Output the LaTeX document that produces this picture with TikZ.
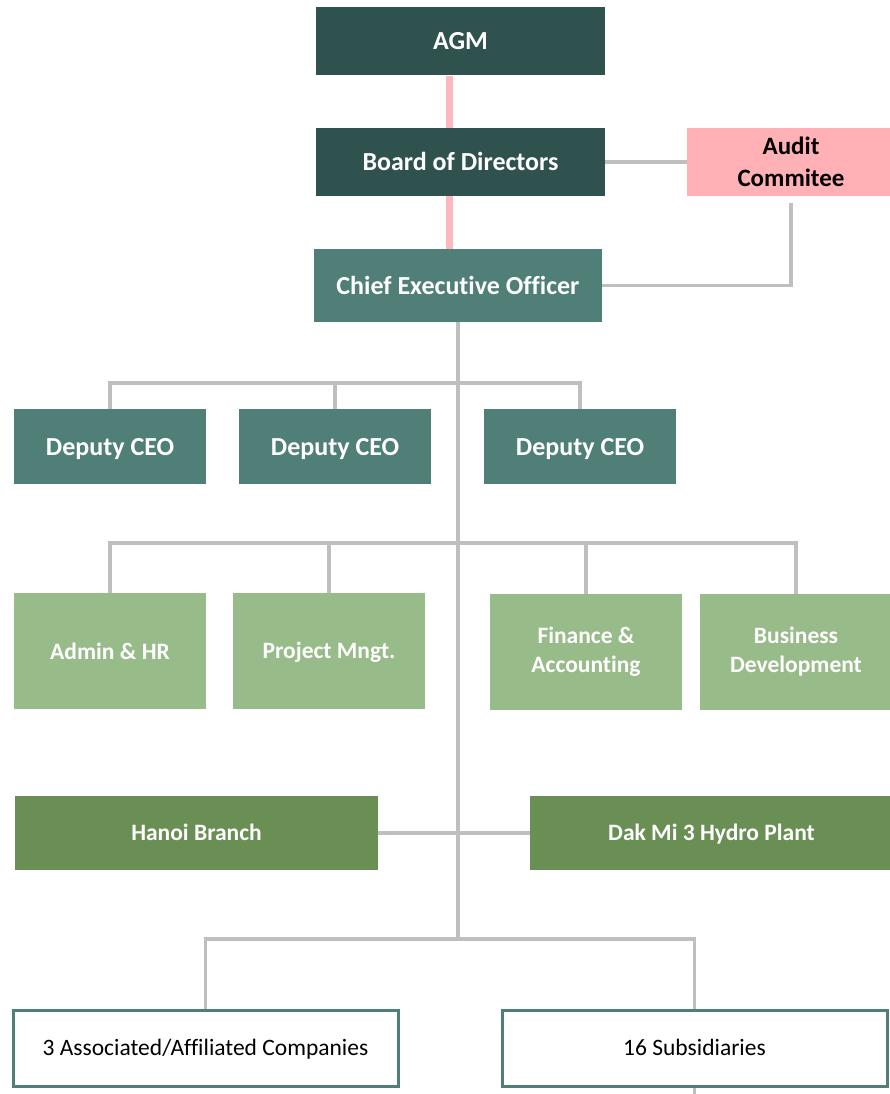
\documentclass[tikz,border=0pt]{standalone}
\usepackage{fontspec}
\setmainfont[Ligatures=NoCommon]{Carlito}
\usetikzlibrary{positioning, calc}
\definecolor{boardgreen}{RGB}{47,82,79}
\definecolor{execgreen}{RGB}{79,127,118}
\definecolor{deptgreen}{RGB}{151,187,137}
\definecolor{sitegreen}{RGB}{106,143,85}
\definecolor{auditpink}{RGB}{255,177,182}
\definecolor{linkpink}{RGB}{255,183,190}
\definecolor{linkgray}{RGB}{191,191,191}
\tikzstyle{board} = [rectangle, minimum width=289pt, minimum height=68pt, text centered, text height=17pt, text depth=0pt, fill=boardgreen, text=white, font=\bfseries\fontsize{26}{31}\selectfont]
\tikzstyle{audit} = [rectangle, minimum width=208pt, minimum height=68pt, align=center, fill=auditpink, text=black, font=\bfseries\fontsize{25}{32}\selectfont]
\tikzstyle{exec} = [rectangle, minimum width=192pt, minimum height=75pt, text centered, text height=17pt, text depth=0pt, fill=execgreen, text=white, font=\bfseries\fontsize{26}{31}\selectfont]
\tikzstyle{dept} = [rectangle, minimum width=192pt, minimum height=116pt, align=center, fill=deptgreen, text=white, font=\bfseries\fontsize{23.5}{29}\selectfont]
\tikzstyle{site} = [rectangle, minimum width=363pt, minimum height=74pt, text centered, text height=15pt, text depth=0pt, fill=sitegreen, text=white, font=\bfseries\fontsize{23.5}{29}\selectfont]
\tikzstyle{unit} = [rectangle, minimum width=385pt, minimum height=76pt, text centered, text height=15pt, text depth=0pt, draw=execgreen, line width=3pt, fill=white, text=black, font=\fontsize{23.5}{29}\selectfont]
\tikzstyle{pinkline} = [draw=linkpink, line width=7pt]
\tikzstyle{grayline} = [draw=linkgray, line width=3.5pt]

\begin{document}
\begin{tikzpicture}[x=1pt, y=-1pt]
\useasboundingbox (0,0) rectangle (890,1094);
% governance
\node (agm) [board] at (460.5,41.5) {AGM};
\node (bod) [board] at (460.5,162) {Board of Directors};
\node (audit) [audit] at (791,162) {Audit\\Commitee};
\node (ceo) [exec, minimum width=288pt, minimum height=73pt] at (458,285.5) {Chief Executive Officer};
% deputies
\node (dep1) [exec] at (110,446.5) {Deputy CEO};
\node (dep2) [exec] at (335,446.5) {Deputy CEO};
\node (dep3) [exec] at (580,446.5) {Deputy CEO};
% departments
\node (admin) [dept] at (110,651) {Admin \& HR};
\node (proj) [dept, text height=15pt, text depth=0pt] at (329,651) {Project Mngt.};
\node (fin) [dept] at (586,652) {Finance \&\\Accounting};
\node (bus) [dept] at (796,652) {Business\\Development};
% branches
\node (hanoi) [site] at (196.5,833) {Hanoi Branch};
\node (dakmi) [site] at (711.5,833) {Dak Mi 3 Hydro Plant};
% companies
\node (assoc) [unit] at (205.5,1048) {3 Associated/Affiliated Companies};
\node (subs) [unit] at (694.5,1048) {16 Subsidiaries};

\coordinate (depbar) at (458,383);
\coordinate (deptbar) at (458,543);
\coordinate (hub) at (458,939);
\coordinate (stub) at (694.5,1094);

\draw[pinkline] ([xshift=-11.5pt]agm.south) -- ([xshift=-11.5pt]bod.north);
\draw[pinkline] ([xshift=-11.5pt]bod.south) -- ([xshift=-9pt]ceo.north);
\draw[grayline] (bod.east) -- (audit.west);
\draw[grayline] ([yshift=-7pt]audit.south) |- (ceo.east);
\draw[grayline] (ceo.south) -- (hub);
\draw[grayline] (dep1.north) |- (depbar) -| (dep3.north);
\draw[grayline] (dep2.north) -- (dep2.north |- depbar);
\draw[grayline] (admin.north) |- (deptbar) -| (bus.north);
\draw[grayline] (proj.north) -- (proj.north |- deptbar);
\draw[grayline] (fin.north) -- (fin.north |- deptbar);
\draw[grayline] (hanoi.east) -- (dakmi.west);
\draw[grayline] (assoc.north) |- (hub) -| (subs.north);
\draw[grayline] (subs.south) -- (stub);
\end{tikzpicture}
\end{document}
